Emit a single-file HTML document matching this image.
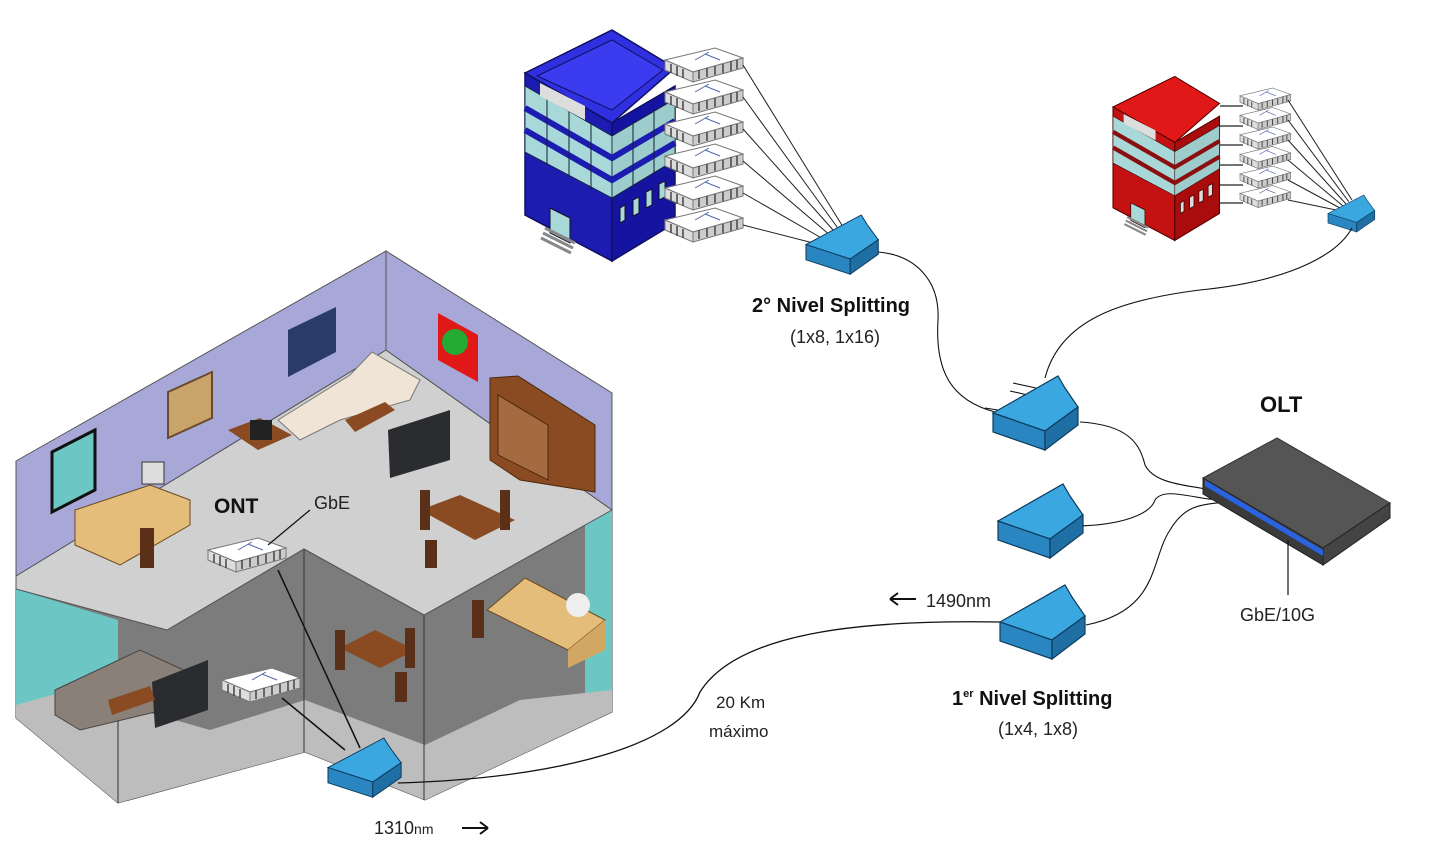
<!DOCTYPE html>
<html><head><meta charset="utf-8"><style>
html,body{margin:0;padding:0;background:#fff;}
svg{display:block;}
text{font-family:"Liberation Sans",sans-serif;}
</style></head><body>
<svg width="1431" height="857" viewBox="0 0 1431 857" xmlns="http://www.w3.org/2000/svg">
<defs>
<g id="spl">
 <polygon points="0,37 65,0 72,12 85,31 52,55" fill="#3aa7e0" stroke="#0d3c5e" stroke-width="1.2"/>
 <polygon points="0,37 52,55 52,74 0,56" fill="#2a86c0" stroke="#0d3c5e" stroke-width="1.2"/>
 <polygon points="52,55 85,31 85,49 52,74" fill="#1f6fa4" stroke="#0d3c5e" stroke-width="1.2"/>
</g>
<g id="ont">
 <polygon points="0,12 50,0 78,10 28,24" fill="#fff" stroke="#777" stroke-width="1"/>
 <polygon points="0,12 28,24 28,34 0,22" fill="#ddd" stroke="#777" stroke-width="1"/>
 <polygon points="28,24 78,10 78,20 28,34" fill="#ccc" stroke="#777" stroke-width="1"/>
 <path d="M6,16 L6,25 M12,18 L12,28 M18,21 L18,30 M34,22 L34,31 M42,20 L42,29 M50,18 L50,27 M58,16 L58,25 M66,13 L66,23 M72,12 L72,21" stroke="#444" stroke-width="1.5"/>
 <path d="M40,6 L55,12 M30,12 L44,4" stroke="#5566aa" stroke-width="1"/>
</g>
<g id="bld">
 <polygon points="0,45 87,2 150,40 87,95" fill="#3030e0" stroke="#101060" stroke-width="1.5"/>
 <polygon points="12,48 87,12 138,42 87,82" fill="#3b3bf0" stroke="#101060" stroke-width="1"/>
 <polygon points="0,45 87,95 87,233 0,187" fill="#1c1cb0" stroke="#101060" stroke-width="1.5"/>
 <polygon points="87,95 150,58 150,195 87,233" fill="#1414a0" stroke="#101060" stroke-width="1.5"/>
 <polygon points="0,58 87,108 87,170 0,124" fill="#a8d8d8" stroke="#123" stroke-width="0.8"/>
 <polygon points="87,108 150,71 150,132 87,170" fill="#9ccccc" stroke="#123" stroke-width="0.8"/>
 <path d="M0,80 L87,130 L150,93 M0,102 L87,152 L150,115" stroke="#1c1cb0" stroke-width="6" fill="none"/>
 <path d="M22,70 L22,137 M44,82 L44,149 M66,95 L66,161 M108,96 L108,158 M129,84 L129,145" stroke="#123" stroke-width="1"/>
 <polygon points="15,55 60,78 60,92 15,68" fill="#ddd"/>
 <path d="M95,195 L95,180 L100,177 L100,192 Z M108,188 L108,172 L114,169 L114,185 Z M121,180 L121,164 L127,161 L127,177 Z M134,172 L134,156 L140,153 L140,169 Z" fill="#a8d8d8" stroke="#112"/>
 <polygon points="25,180 45,190 45,215 25,205" fill="#a8d8d8" stroke="#112"/>
 <path d="M20,200 L50,215 M18,205 L48,220 M16,210 L46,225" stroke="#888" stroke-width="3"/>
</g>
</defs>

<!-- HOUSE -->
<polygon points="16,589 167,630 304,549 424,615 612,510 612,712 425,800 305,752 118,803 16,718" fill="#7c7c7c" stroke="#444" stroke-width="1"/>
<polygon points="16,589 118,620 118,680 16,712" fill="#6cc7c4"/>
<polygon points="585,525 612,510 612,712 585,720" fill="#6cc7c4"/>
<polygon points="16,705 70,690 210,730 305,700 305,752 118,803 16,718" fill="#bdbdbd"/>
<polygon points="305,752 425,800 612,712 612,690 520,700 425,745 305,700" fill="#bdbdbd"/>
<path d="M304,549 L304,752 M424,615 L424,800 M118,720 L118,803" stroke="#333" stroke-width="1"/>
<polygon points="16,576 386,350 612,510 424,615 304,549 167,630 16,589" fill="#d0d0d0" stroke="#555" stroke-width="1"/>
<polygon points="16,461 386,251 386,350 16,576" fill="#a8a8d8" stroke="#555" stroke-width="1"/>
<polygon points="386,251 612,393 612,510 386,350" fill="#a8a8d8" stroke="#555" stroke-width="1"/>
<!-- furniture -->
<polygon points="52,452 95,430 95,490 52,512" fill="#6cc7c4" stroke="#111" stroke-width="3"/>
<polygon points="168,392 212,372 212,418 168,438" fill="#c9a46a" stroke="#6a4a2a" stroke-width="2"/>
<polygon points="288,330 336,307 336,352 288,377" fill="#2a3a6a"/>
<polygon points="438,313 478,335 478,382 438,360" fill="#e01818"/>
<circle cx="455" cy="342" r="13" fill="#22aa33"/>
<polygon points="490,378 518,376 595,425 595,492 520,480 490,460" fill="#8a4a22" stroke="#4a2a10"/>
<polygon points="498,395 548,425 548,480 498,455" fill="#a56a40" stroke="#4a2a10"/>
<polygon points="278,420 350,375 372,352 420,380 410,400 340,420 300,440" fill="#efe4d6" stroke="#777"/>
<polygon points="345,420 385,402 395,410 355,432" fill="#8a4a22"/>
<polygon points="228,430 260,418 292,435 258,450" fill="#8a4a22"/>
<rect x="250" y="420" width="22" height="20" fill="#222"/>
<polygon points="388,430 450,410 450,460 390,478" fill="#2a2c30"/>
<polygon points="75,510 150,485 190,500 190,525 120,565 75,545" fill="#e5bd7a" stroke="#6a4a20"/>
<rect x="142" y="462" width="22" height="22" fill="#ddd" stroke="#333"/>
<polygon points="420,510 460,495 515,520 475,540" fill="#8a4a22"/>
<rect x="420" y="490" width="10" height="40" fill="#5a3018"/>
<rect x="500" y="490" width="10" height="40" fill="#5a3018"/>
<rect x="425" y="540" width="12" height="28" fill="#5a3018"/>
<rect x="140" y="528" width="14" height="40" fill="#5a3018"/>
<polygon points="55,690 140,650 205,680 205,700 80,730 55,715" fill="#8a8078" stroke="#444"/>
<polygon points="152,682 208,660 208,710 155,728" fill="#2a2c30"/>
<polygon points="108,700 150,686 155,700 112,715" fill="#8a4a22"/>
<polygon points="340,648 375,630 415,650 380,668" fill="#8a4a22"/>
<rect x="335" y="630" width="10" height="40" fill="#5a3018"/>
<rect x="405" y="628" width="10" height="40" fill="#5a3018"/>
<rect x="395" y="672" width="12" height="30" fill="#5a3018"/>
<polygon points="487,610 525,578 605,620 568,650" fill="#e5bd7a" stroke="#6a4a20"/>
<polygon points="568,650 605,620 605,650 568,668" fill="#d2a763"/>
<rect x="472" y="600" width="12" height="38" fill="#5a3018"/>
<circle cx="578" cy="605" r="12" fill="#eee"/>
<use href="#ont" x="208" y="538"/>
<use href="#ont" x="222" y="668"/>
<!-- house cables -->
<path d="M268,545 L310,510" stroke="#111" stroke-width="1.2"/>
<path d="M278,570 L360,748" stroke="#111" stroke-width="1.5"/>
<path d="M282,698 L345,750" stroke="#111" stroke-width="1.5"/>
<use href="#spl" transform="translate(328,738) scale(0.86,0.8)"/>

<!-- BUILDINGS -->
<use href="#bld" transform="translate(525,28)"/>
<g>
<use href="#ont" x="665" y="48"/><use href="#ont" x="665" y="80"/><use href="#ont" x="665" y="112"/><use href="#ont" x="665" y="144"/><use href="#ont" x="665" y="176"/><use href="#ont" x="665" y="208"/>
</g>
<path d="M743,65 L848,235 M743,97 L845,238 M743,129 L842,240 M743,161 L838,242 M743,193 L832,244 M743,225 L825,246" stroke="#222" stroke-width="1"/>
<use href="#spl" transform="translate(806,215) scale(0.85,0.8)"/>

<g transform="translate(1113,75) scale(0.71)">
 <polygon points="0,45 87,2 150,40 87,95" fill="#e01818" stroke="#500" stroke-width="1.5"/>
 <polygon points="0,45 87,95 87,233 0,187" fill="#c41212" stroke="#500" stroke-width="1.5"/>
 <polygon points="87,95 150,58 150,195 87,233" fill="#a80c0c" stroke="#500" stroke-width="1.5"/>
 <polygon points="0,58 87,108 87,170 0,124" fill="#a8d8d8" stroke="#300" stroke-width="0.8"/>
 <polygon points="87,108 150,71 150,132 87,170" fill="#9ccccc" stroke="#300" stroke-width="0.8"/>
 <path d="M0,80 L87,130 L150,93 M0,102 L87,152 L150,115" stroke="#8a1010" stroke-width="6" fill="none"/>
 <polygon points="15,55 60,78 60,92 15,68" fill="#ddd"/>
 <polygon points="25,180 45,190 45,215 25,205" fill="#a8d8d8" stroke="#300"/>
 <path d="M20,200 L50,215 M18,205 L48,220 M16,210 L46,225" stroke="#888" stroke-width="3"/>
 <path d="M95,195 L95,180 L100,177 L100,192 Z M108,188 L108,172 L114,169 L114,185 Z M121,180 L121,164 L127,161 L127,177 Z M134,172 L134,156 L140,153 L140,169 Z" fill="#ddd" stroke="#300"/>
</g>
<path d="M1220,106 L1243,106 M1220,126 L1243,126 M1220,145 L1243,145 M1220,165 L1243,165 M1220,185 L1243,185 M1220,203 L1243,203" stroke="#222" stroke-width="1.2"/>
<g transform="translate(1240,88) scale(0.65)">
<use href="#ont" x="0" y="0"/><use href="#ont" x="0" y="30"/><use href="#ont" x="0" y="60"/><use href="#ont" x="0" y="90"/><use href="#ont" x="0" y="120"/><use href="#ont" x="0" y="150"/>
</g>
<path d="M1288,100 L1352,200 M1288,120 L1349,202 M1288,140 L1346,204 M1288,160 L1343,206 M1288,180 L1340,208 M1288,200 L1336,210" stroke="#222" stroke-width="1"/>
<use href="#spl" transform="translate(1328,195) scale(0.55,0.5)"/>

<!-- main cables -->
<path d="M398,783 C560,778 680,745 700,692 C740,628 880,620 1000,622" stroke="#111" stroke-width="1.3" fill="none"/>
<path d="M1086,625 C1160,610 1150,560 1170,530 C1185,505 1200,505 1225,502" stroke="#111" stroke-width="1.1" fill="none"/>
<path d="M1078,526 C1120,525 1150,515 1155,500 C1165,485 1200,502 1230,500" stroke="#111" stroke-width="1.1" fill="none"/>
<path d="M1080,422 C1130,425 1140,445 1145,465 C1155,485 1190,485 1210,490" stroke="#111" stroke-width="1.1" fill="none"/>
<path d="M1045,378 C1060,320 1120,300 1200,290 C1300,280 1340,250 1352,228" stroke="#111" stroke-width="1.1" fill="none"/>
<path d="M995,412 C950,400 935,370 938,320 C940,280 915,255 878,252" stroke="#111" stroke-width="1.1" fill="none"/>
<path d="M1013,383 L1036,388 M1010,391 L1032,396 M985,408 L998,410" stroke="#111" stroke-width="1.1"/>
<use href="#spl" x="993" y="376"/>
<use href="#spl" x="998" y="484"/>
<use href="#spl" x="1000" y="585"/>

<!-- OLT -->
<polygon points="1203,478 1277,438 1390,503 1323,548" fill="#555" stroke="#333"/>
<polygon points="1203,478 1323,548 1323,565 1203,494" fill="#3a3a3a" stroke="#222"/>
<polygon points="1323,548 1390,503 1390,518 1323,565" fill="#444" stroke="#222"/>
<polygon points="1205,480 1323,550 1323,556 1205,486" fill="#2b62e0"/>
<path d="M1288,540 L1288,595" stroke="#111" stroke-width="1.2"/>

<!-- arrows -->
<path d="M890,599 L916,599 M890,599 L898,593 M890,599 L898,605" stroke="#111" stroke-width="2" fill="none"/>
<path d="M462,828 L488,828 M488,828 L480,822 M488,828 L480,834" stroke="#111" stroke-width="2" fill="none"/>

<!-- TEXT -->
<text x="752" y="312" font-size="20" font-weight="bold" fill="#111">2° Nivel Splitting</text>
<text x="790" y="343" font-size="18" fill="#222">(1x8, 1x16)</text>
<text x="1260" y="412" font-size="22" font-weight="bold" fill="#111">OLT</text>
<text x="1240" y="621" font-size="18" fill="#222">GbE/10G</text>
<text x="926" y="607" font-size="18" fill="#222">1490nm</text>
<text x="952" y="705" font-size="20" font-weight="bold" fill="#111">1<tspan font-size="11" dy="-8">er</tspan><tspan dy="8"> Nivel Splitting</tspan></text>
<text x="998" y="735" font-size="18" fill="#222">(1x4, 1x8)</text>
<text x="716" y="708" font-size="17" fill="#222">20 Km</text>
<text x="709" y="737" font-size="17" fill="#222">máximo</text>
<text x="374" y="834" font-size="18" fill="#222">1310<tspan font-size="14">nm</tspan></text>
<text x="214" y="513" font-size="21" font-weight="bold" fill="#111">ONT</text>
<text x="314" y="509" font-size="18" fill="#222">GbE</text>
</svg>
</body></html>
